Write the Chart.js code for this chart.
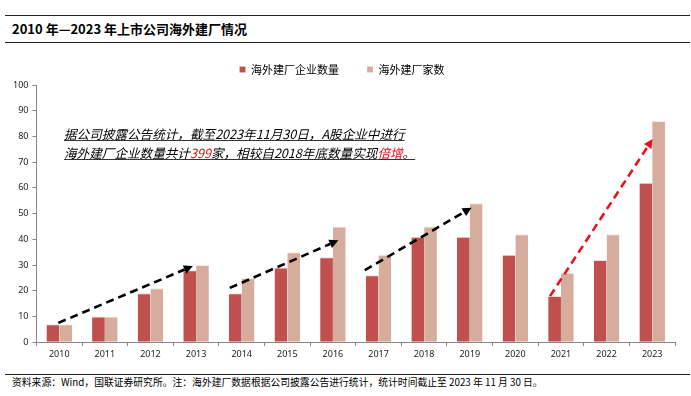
<!DOCTYPE html>
<html><head><meta charset="utf-8">
<script src="https://cdn.jsdelivr.net/npm/chart.js@4/dist/chart.umd.min.js"></script>
<style>
html,body{margin:0;padding:0;background:#fff;width:691px;height:396px;overflow:hidden;font-family:"Noto Sans CJK SC","Noto Sans",sans-serif;}
#wrap{position:relative;width:691px;height:396px;}
.rule{position:absolute;left:5px;width:685px;height:0;border-top:1.5px solid #222;}
#title{position:absolute;left:12px;top:19px;font-size:13px;font-weight:bold;color:#000;white-space:nowrap;}
#foot{position:absolute;left:12px;top:375px;font-size:9.8px;color:#000;white-space:nowrap;}
#note{position:absolute;left:64px;top:125px;font-size:12.6px;font-style:italic;line-height:18.5px;color:#000;white-space:nowrap;}
#note span.l{text-decoration:underline;text-decoration-color:#333;}
#note .r{color:#e0141b;}
#cv{position:absolute;left:0;top:28px;}
</style></head>
<body><div id="wrap">
<div class="rule" style="top:15px"></div>
<div id="title">2010 年—2023 年上市公司海外建厂情况</div>
<div class="rule" style="top:42px"></div>
<canvas id="cv" width="691" height="335"></canvas>
<div id="note"><span class="l">据公司披露公告统计，截至2023年11月30日，A股企业中进行</span><br><span class="l">海外建厂企业数量共计<span class="r">399</span>家，相较自2018年底数量实现<span class="r">倍增</span>。</span></div>
<div class="rule" style="top:374px;border-top-width:1px"></div>
<div id="foot">资料来源：Wind，国联证券研究所。注：海外建厂数据根据公司披露公告进行统计，统计时间截止至 2023 年 11 月 30 日。</div>
</div>
<script>
const years = ['2010','2011','2012','2013','2014','2015','2016','2017','2018','2019','2020','2021','2022','2023'];
const companies = [7,10,19,28,19,29,33,26,41,41,34,18,32,62];
const plants = [7,10,21,30,25,35,45,34,45,54,42,27,42,86];
const seriesNames = ['海外建厂企业数量','海外建厂家数'];
// trend arrows in data units: [startIndex, startValue, endIndex, endValue]
const blackArrows = [[-0.02,7.5,2.93,29.6],[3.74,21.1,6.12,39.6],[6.70,28,9.04,52.3]];
const redArrows = [[10.76,17.9,13.01,79]];

const arrowPlugin = {
  id:'arrows',
  afterDatasetsDraw(chart){
    const ctx = chart.ctx, xs = chart.scales.x, ys = chart.scales.y;
    const draw = (a,color)=>{
      const x0 = xs.getPixelForValue(a[0]), y0 = ys.getPixelForValue(a[1]);
      const x1 = xs.getPixelForValue(a[2]), y1 = ys.getPixelForValue(a[3]);
      const ang = Math.atan2(y1-y0,x1-x0), hl = 9, hw = 4.5;
      const bx = x1 - hl*Math.cos(ang), by = y1 - hl*Math.sin(ang);
      ctx.save();
      ctx.strokeStyle = color; ctx.fillStyle = color; ctx.lineWidth = 2.6;
      ctx.setLineDash([8,5]);
      ctx.beginPath(); ctx.moveTo(x0,y0); ctx.lineTo(bx,by); ctx.stroke();
      ctx.setLineDash([]);
      ctx.beginPath(); ctx.moveTo(x1,y1);
      ctx.lineTo(bx + hw*Math.sin(ang), by - hw*Math.cos(ang));
      ctx.lineTo(bx - hw*Math.sin(ang), by + hw*Math.cos(ang));
      ctx.closePath(); ctx.fill();
      ctx.restore();
    };
    blackArrows.forEach(a=>draw(a,'#000'));
    redArrows.forEach(a=>draw(a,'#e3141b'));
  }
};

new Chart(document.getElementById('cv'),{
  type:'bar',
  data:{labels:years,datasets:[
    {label:seriesNames[0],data:companies,backgroundColor:'#c0504d',borderColor:'#f3dcd9',borderWidth:{left:0,right:0,top:1},categoryPercentage:0.56,barPercentage:1},
    {label:seriesNames[1],data:plants,backgroundColor:'#d6ac9c',borderColor:'#f5e7e1',borderWidth:{left:0,right:0,top:1},categoryPercentage:0.56,barPercentage:1}
  ]},
  options:{
    responsive:false,animation:false,
    layout:{padding:{left:9,right:16,top:8,bottom:0}},
    plugins:{
      legend:{position:'top',align:'center',labels:{boxWidth:6,boxHeight:6,padding:28,color:'#000',font:{family:'"Noto Sans CJK SC"',size:11}}},
      tooltip:{enabled:false}
    },
    scales:{
      x:{grid:{drawOnChartArea:false,drawTicks:true,tickLength:4,color:'#888'},border:{color:'#888',width:1},
         ticks:{color:'#222',font:{family:'"Noto Sans","DejaVu Sans"',size:9},padding:3,maxRotation:0}},
      y:{min:0,max:100,grid:{drawOnChartArea:false,drawTicks:true,tickLength:4,color:'#888'},border:{color:'#888',width:1},
         ticks:{stepSize:10,color:'#222',font:{family:'"Noto Sans","DejaVu Sans"',size:9},padding:4}}
    }
  },
  plugins:[arrowPlugin]
});
</script>
</body></html>
